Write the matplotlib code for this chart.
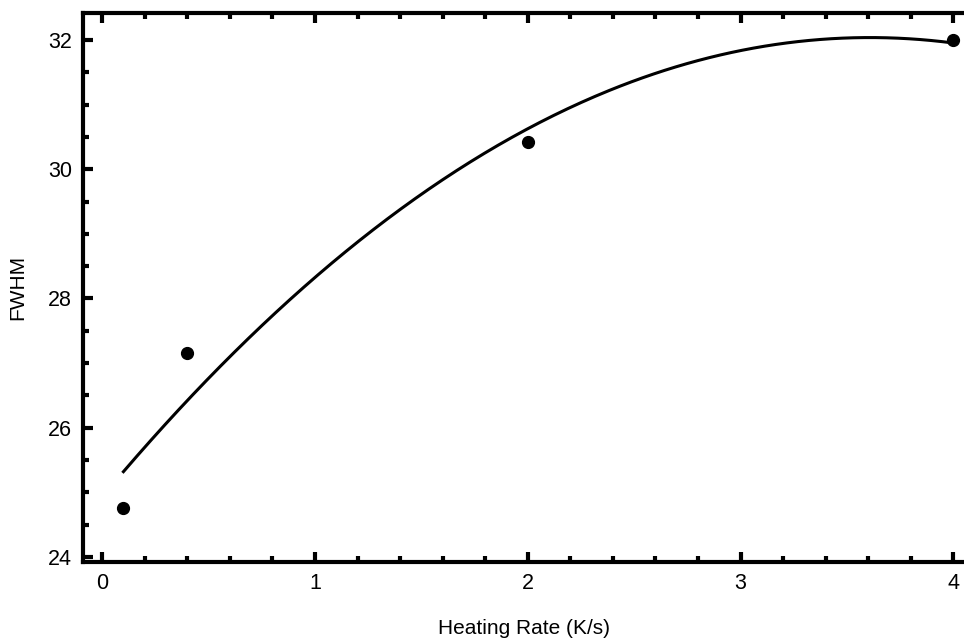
import numpy as np
from matplotlib import pyplot as plt
from matplotlib.ticker import MultipleLocator

# measured FWHM against heating rate
heating_rate = [0.1, 0.4, 2.0, 4.0]
fwhm = [24.75, 27.15, 30.42, 32.0]

# quadratic least-squares fit through the measurements
coeffs = np.polyfit(heating_rate, fwhm, 2)
x_fit = np.linspace(min(heating_rate), max(heating_rate), 300)
y_fit = np.polyval(coeffs, x_fit)

plt.rcParams['font.family'] = ['Liberation Sans', 'DejaVu Sans']

fig = plt.figure(figsize=(9.64, 6.39), dpi=100)
ax = fig.add_axes([0.0861, 0.1205, 0.9139, 0.8592])

ax.plot(x_fit, y_fit, color="black", lw=2.2)
ax.plot(heating_rate, fwhm, "o", color="black", ms=8.5)

ax.set_xlim(-0.09, 4.05)
ax.set_ylim(23.92, 32.42)
ax.xaxis.set_major_locator(MultipleLocator(1))
ax.xaxis.set_minor_locator(MultipleLocator(0.2))
ax.yaxis.set_major_locator(MultipleLocator(2))
ax.yaxis.set_minor_locator(MultipleLocator(0.5))

for s in ax.spines.values():
    s.set_linewidth(3)
ax.spines["right"].set_visible(False)
ax.tick_params(which="both", direction="in", top=True, right=False, width=3, labelsize=15.5, colors="black")
ax.tick_params(which="major", length=7, pad=8)
ax.tick_params(which="minor", length=4)

ax.set_xlabel("Heating Rate (K/s)", fontsize=15, labelpad=18)
ax.set_ylabel("FWHM", fontsize=15)
ax.yaxis.set_label_coords(-0.063, 0.5)

fig.savefig("out.png", dpi=100)
